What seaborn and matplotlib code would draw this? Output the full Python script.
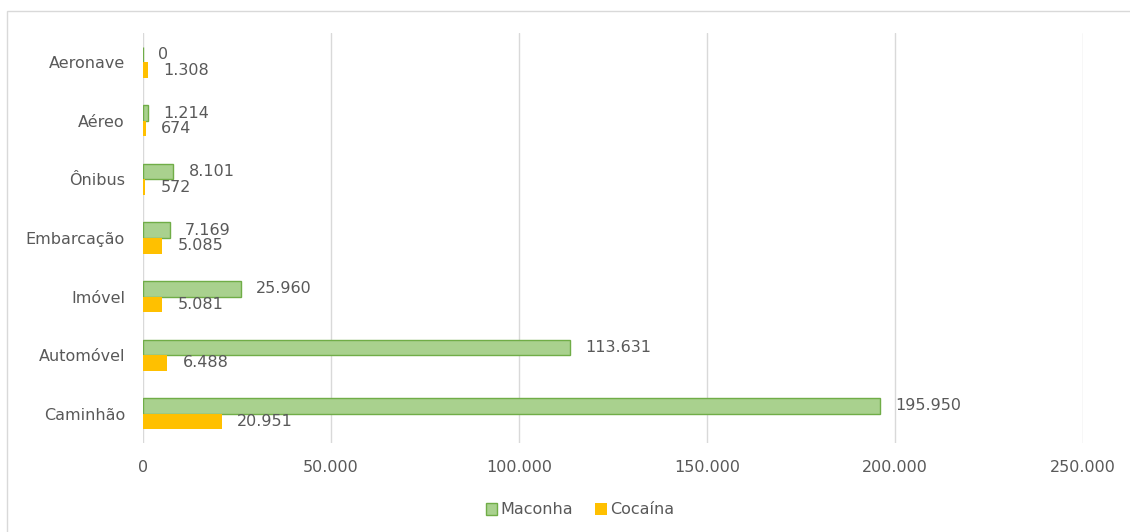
import matplotlib
matplotlib.use("Agg")
import matplotlib.pyplot as plt
import seaborn as sns
import pandas as pd
from matplotlib.patches import Rectangle, Patch

categories = ["Aeronave", "Aéreo", "Ônibus", "Embarcação", "Imóvel", "Automóvel", "Caminhão"]
maconha = [0, 1214, 8101, 7169, 25960, 113631, 195950]
cocaina = [1308, 674, 572, 5085, 5081, 6488, 20951]
series_names = ["Maconha", "Cocaína"]
xticks = [0, 50000, 100000, 150000, 200000, 250000]

df = pd.DataFrame({
    "Categoria": categories * 2,
    "Valor": maconha + cocaina,
    "Droga": [series_names[0]] * len(categories) + [series_names[1]] * len(categories),
})

sns.set_theme(style="white")
plt.rcParams['font.family'] = ['DejaVu Sans']
TXT = "#595959"
GREEN = "#A9D18E"
GREEN_EDGE = "#70AD47"
ORANGE = "#FFC000"
FS = 11.5

fig = plt.figure(figsize=(11.3, 5.32), dpi=100)
ax = fig.add_axes([143/1130, 1-443/532, (1083-143)/1130, (443-33)/532])

sns.barplot(data=df, y="Categoria", x="Valor", hue="Droga", order=categories,
            hue_order=series_names, palette=[GREEN, ORANGE], orient="h",
            width=0.53, saturation=1, ax=ax, legend=False, errorbar=None)

for cont, ec, lw in zip(ax.containers, [GREEN_EDGE, ORANGE], [1.0, 0.0]):
    for p in cont.patches:
        p.set_edgecolor(ec)
        p.set_linewidth(lw)
    labels = [f"{int(v):,}".replace(",", ".") for v in cont.datavalues]
    ax.bar_label(cont, labels=labels, padding=11, fontsize=FS, color=TXT)

ax.set_xlim(0, 250000)
ax.set_ylim(6.5, -0.5)
ax.set_xticks(xticks)
ax.set_xticklabels([f"{v:,}".replace(",", ".") for v in xticks])
ax.xaxis.grid(True, color="#D9D9D9", linewidth=1)
ax.set_axisbelow(True)
for s in ax.spines.values():
    s.set_visible(False)
ax.tick_params(axis="x", length=0, pad=12, labelsize=FS, labelcolor=TXT)
ax.tick_params(axis="y", length=0, pad=13, labelsize=FS, labelcolor=TXT)
ax.set_xlabel("")
ax.set_ylabel("")

handles = [Patch(facecolor=GREEN, edgecolor=GREEN_EDGE, linewidth=1),
           Patch(facecolor=ORANGE, edgecolor=ORANGE, linewidth=0)]
fig.legend(handles, series_names, loc="center", bbox_to_anchor=(580/1130, 1-510/532),
           ncol=2, frameon=False, fontsize=FS, labelcolor=TXT,
           handlelength=0.7, handleheight=0.7, handletextpad=0.2, columnspacing=1.4)

fig.patches.append(Rectangle((7/1130, -0.05), 1.1, 1-11/532+0.05, transform=fig.transFigure,
                             fill=False, edgecolor="#D9D9D9", linewidth=1))

fig.savefig("out.png", dpi=100)
